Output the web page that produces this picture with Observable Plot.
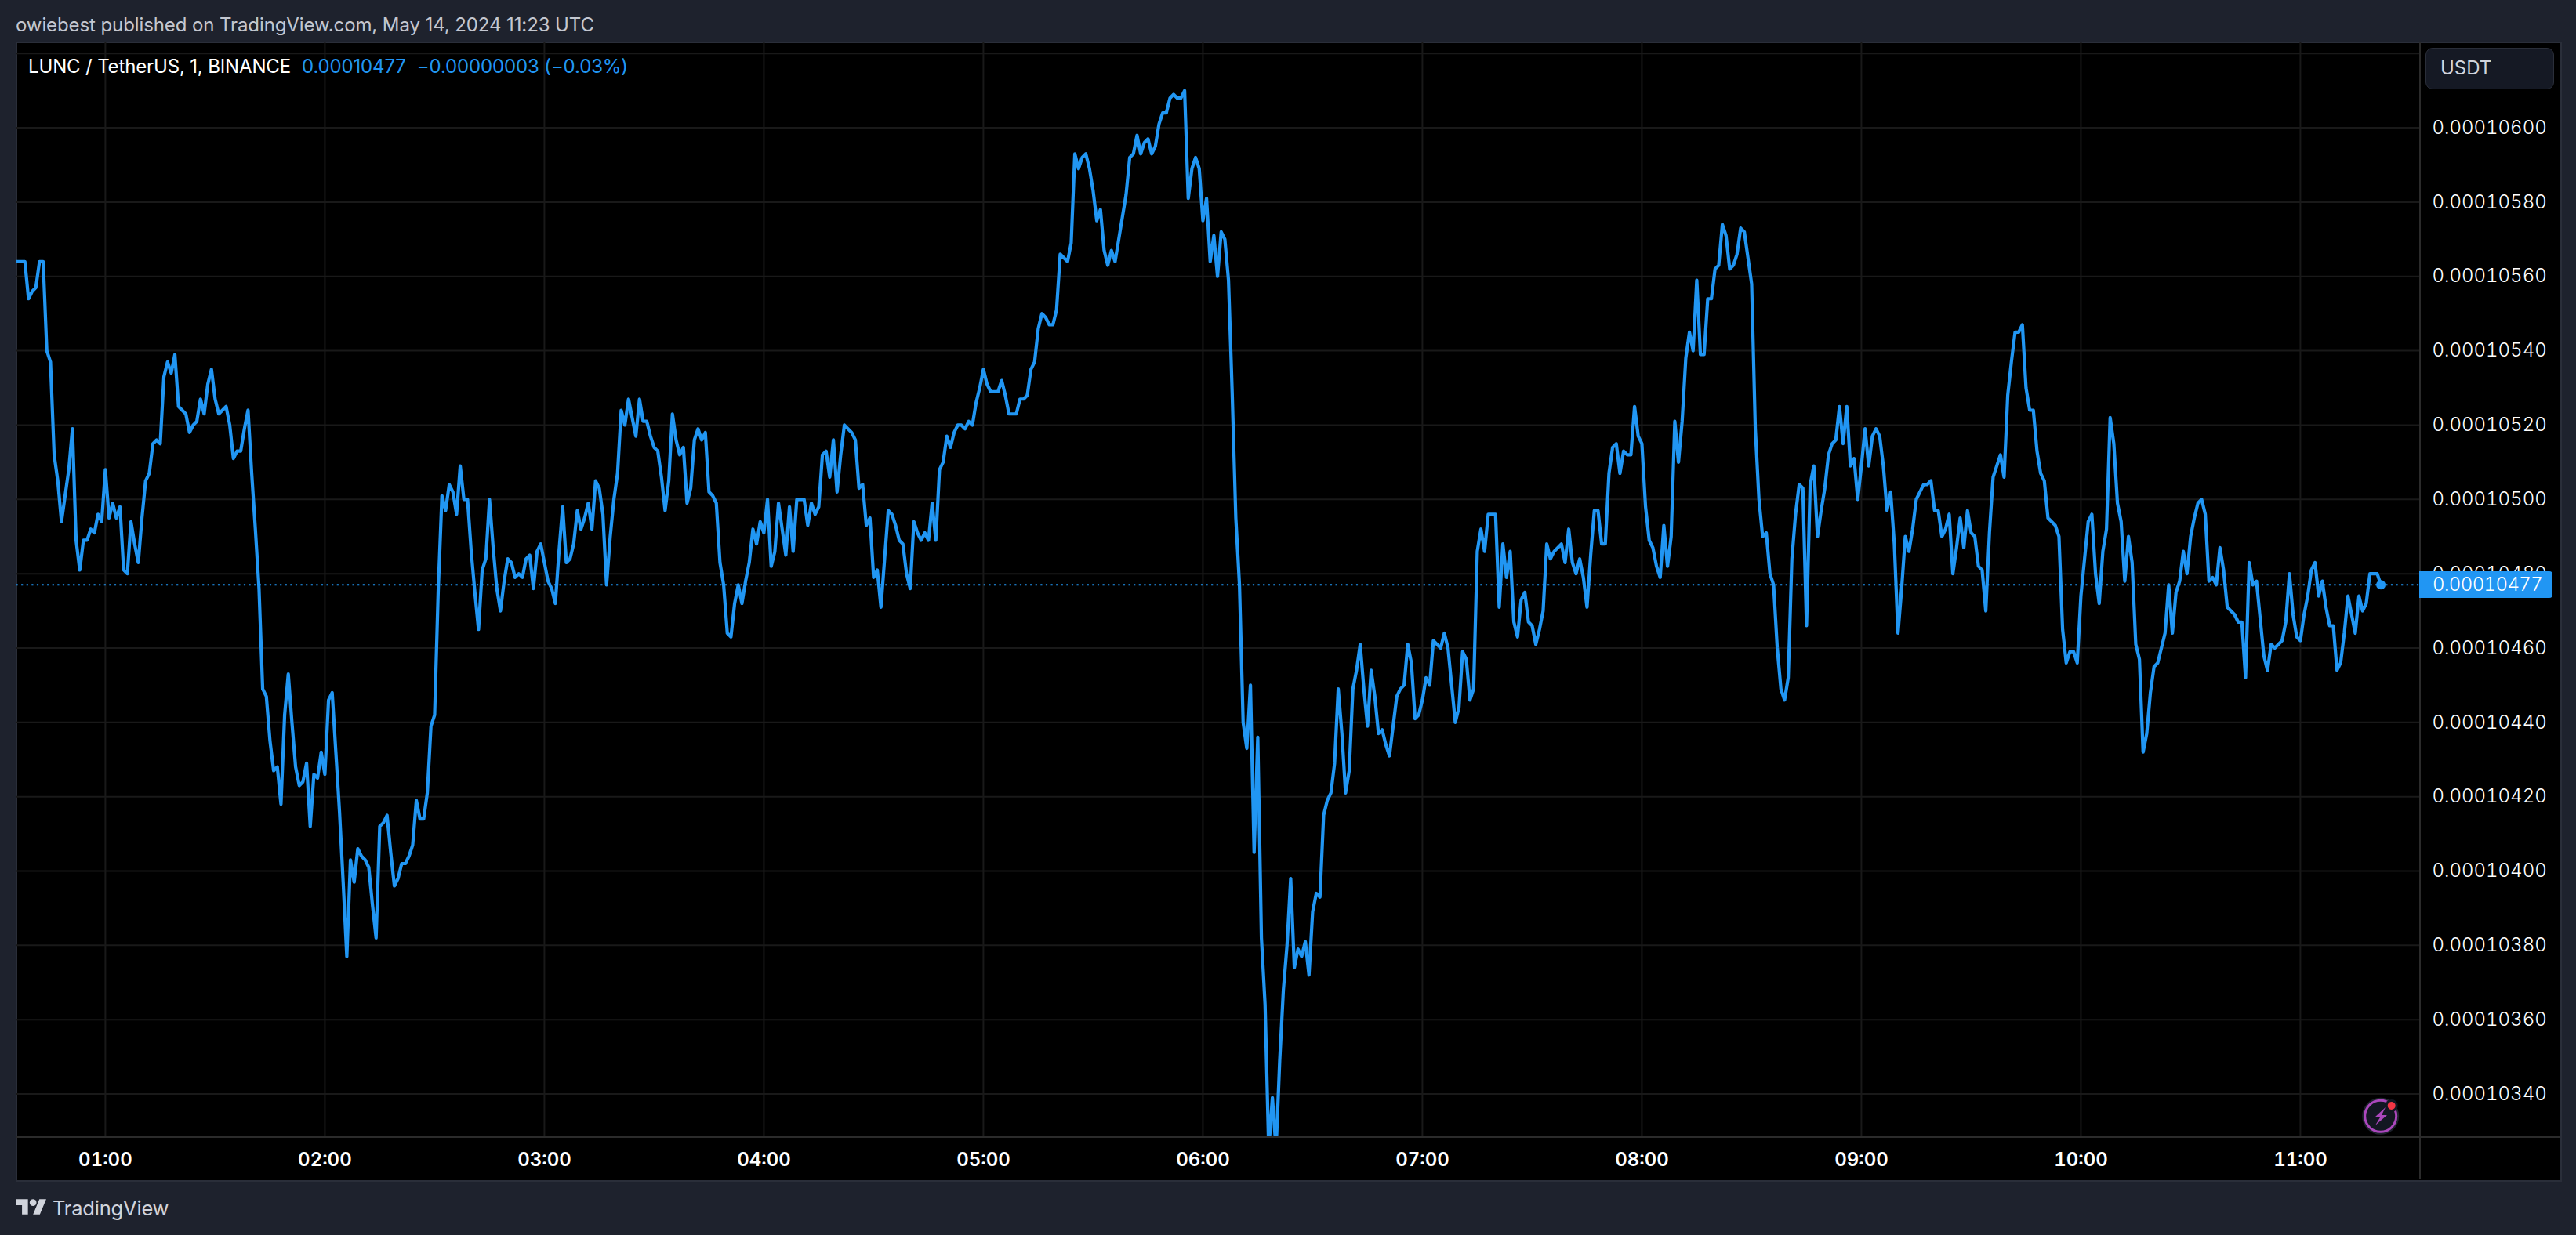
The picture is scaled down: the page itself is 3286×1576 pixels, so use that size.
<!DOCTYPE html>
<html>
<head>
<meta charset="utf-8">
<script src="https://cdn.jsdelivr.net/npm/d3@7"></script>
<script src="https://cdn.jsdelivr.net/npm/@observablehq/plot@0.6"></script>
<style>
  html,body{margin:0;padding:0;background:#1e222d;width:3286px;height:1576px;overflow:hidden;font-family:Inter,"Noto Sans",sans-serif;}
  #page{position:relative;width:3286px;height:1576px;}
  #panel{position:absolute;left:20px;top:53px;width:3244px;height:1451px;background:#000;border:2px solid #2a2e39;box-sizing:content-box;}
  #chart{position:absolute;left:0;top:0;}
  .abs{position:absolute;white-space:nowrap;}
  #vsep{position:absolute;left:3086px;top:54px;width:2px;height:1451px;background:#2b2b2b;}
  #hsep{position:absolute;left:21px;top:1450px;width:3244px;height:2px;background:#2b2b2b;}
</style>
</head>
<body>
<div id="page">
  <div id="panel"></div>
  <div id="chart"></div>
  <div id="vsep"></div>
  <div id="hsep"></div>
  <div class="abs" id="publisher" style="left:20px;top:17px;font-size:24px;line-height:30px;color:#c4c7d0;letter-spacing:-0.1px"></div>
  <div class="abs" id="legend" style="left:36px;top:70px;font-size:24px;line-height:30px;letter-spacing:-0.15px"></div>
  <div class="abs" id="unit" style="left:3094px;top:61px;width:164px;height:53px;box-sizing:border-box;background:#151924;border:1.5px solid #2a2e39;border-radius:9px;color:#d1d4dc;font-size:24px;line-height:50px;padding-left:18px"></div>
  <div class="abs" id="lastBox" style="left:3086px;width:170px;height:34px;background:#2196f3;border-radius:0 4px 4px 0;color:#fff;font-size:24px;font-weight:300;line-height:34px;padding-left:17px;box-sizing:border-box;font-variant-numeric:tabular-nums;letter-spacing:-0.6px"></div>
  <svg class="abs" id="bolt" style="left:3008px;top:1396px" width="60" height="60" viewBox="0 0 60 60">
    <circle cx="28.7" cy="28.3" r="22" fill="#131722" stroke="#1e222d" stroke-width="3"/>
    <circle cx="28.7" cy="28.3" r="20" fill="#131722" stroke="#ab47bc" stroke-width="3"/>
    <path d="M35 17 L21 30 L28 30 L22 40 L37 27 L30 27 Z" fill="#ab47bc"/>
    <circle cx="42.7" cy="15" r="8" fill="#131722"/>
    <circle cx="42.7" cy="15" r="5" fill="#f23645"/>
  </svg>
  <svg class="abs" style="left:20px;top:1526px" width="40" height="26" viewBox="0 0 36 24">
    <path d="M14 22H7V11H0V4h14v18zM28 22h-8l7.5-18h8L28 22z" fill="#d1d4dc"/>
    <circle cx="20" cy="8" r="4" fill="#d1d4dc"/>
  </svg>
  <div class="abs" id="brand" style="left:67px;top:1525px;font-size:25.5px;line-height:34px;color:#d1d4dc;letter-spacing:-0.2px"></div>
</div>
<script>
const publisherText = "owiebest published on TradingView.com, May 14, 2024 11:23 UTC";
const symbolText = "LUNC / TetherUS, 1, BINANCE";
const lastText = "0.00010477";
const changeText = "\u22120.00000003 (\u22120.03%)";
const unitText = "USDT";
const brandText = "TradingView";
const lastPrice = 10477;              // in 1e-8 USDT
const firstMinute = 35;               // minutes after 00:00 UTC of the first close below
const sessionDay = Date.UTC(2024, 4, 14);
const priceTicks = [10340,10360,10380,10400,10420,10440,10460,10480,10500,10520,10540,10560,10580,10600];
const gridPrices = [...priceTicks, 10620];
const hourTicks = [1,2,3,4,5,6,7,8,9,10,11];

// one-minute closes in 1e-8 USDT
const closes0035 = [10564,10564,10564,10564,10554,10556,10557,10564,10564,10540,10537,10512,10505,10494,10501,10508,10519,10489,10481,10489,10489,10492,10491,10496,10494];
const closes0100 = [10508,10495,10499,10495,10498,10481,10480,10494,10488,10483,10495,10505,10507,10515,10516,10515,10533,10537,10534,10539,10525,10524,10523,10518,10520,10521,10527,10523,10531,10535,10527,10523,10524,10525,10520,10511,10513,10513,10519,10524,10507,10492,10476,10449,10447,10435,10427,10428,10418,10442,10453,10440,10428,10423,10424,10429,10412,10426,10425,10432];
const closes0200 = [10426,10446,10448,10432,10416,10397,10377,10403,10397,10406,10404,10403,10401,10391,10382,10412,10413,10415,10405,10396,10398,10402,10402,10404,10407,10419,10414,10414,10421,10439,10442,10476,10501,10497,10504,10502,10496,10509,10500,10500,10486,10475,10465,10481,10484,10500,10487,10476,10470,10478,10484,10483,10479,10480,10479,10484,10485,10476,10486,10488];
const closes0300 = [10483,10478,10476,10472,10486,10498,10483,10484,10488,10497,10492,10495,10499,10492,10505,10503,10496,10477,10490,10500,10507,10524,10520,10527,10522,10517,10527,10521,10521,10517,10514,10513,10506,10497,10505,10523,10516,10512,10514,10499,10503,10516,10519,10516,10518,10502,10501,10499,10483,10477,10464,10463,10472,10477,10472,10478,10483,10492,10488,10494];
const closes0400 = [10491,10500,10482,10486,10499,10492,10485,10498,10486,10500,10500,10500,10493,10499,10496,10498,10512,10513,10506,10516,10502,10512,10520,10519,10518,10516,10503,10504,10493,10495,10479,10481,10471,10484,10497,10496,10493,10489,10488,10480,10476,10494,10491,10489,10491,10489,10499,10489,10508,10510,10517,10514,10518,10520,10520,10519,10521,10520,10526,10530];
const closes0500 = [10535,10531,10529,10529,10529,10532,10528,10523,10523,10523,10527,10527,10528,10535,10537,10546,10550,10549,10547,10547,10551,10566,10565,10564,10569,10593,10589,10592,10593,10589,10583,10575,10578,10567,10563,10567,10564,10570,10576,10582,10592,10593,10598,10593,10596,10597,10593,10595,10601,10604,10604,10608,10609,10608,10608,10610,10581,10589,10592,10589];
const closes0600 = [10575,10581,10564,10571,10560,10572,10570,10559,10529,10495,10477,10440,10433,10450,10405,10436,10382,10364,10325,10339,10325,10349,10368,10380,10398,10374,10379,10377,10381,10372,10389,10394,10393,10415,10419,10421,10429,10449,10437,10421,10427,10449,10454,10461,10449,10439,10454,10447,10437,10438,10434,10431,10439,10447,10449,10450,10461,10456,10441,10442];
const closes0700 = [10446,10452,10450,10462,10461,10460,10464,10460,10450,10440,10444,10459,10457,10446,10449,10486,10492,10486,10496,10496,10496,10471,10488,10479,10486,10467,10463,10473,10475,10467,10466,10461,10465,10470,10488,10484,10486,10487,10488,10483,10492,10483,10480,10484,10479,10471,10485,10497,10497,10488,10488,10507,10514,10515,10507,10513,10512,10512,10525,10517];
const closes0800 = [10515,10498,10489,10487,10482,10479,10493,10482,10490,10521,10510,10521,10538,10545,10540,10559,10539,10539,10554,10554,10562,10563,10574,10571,10562,10563,10566,10573,10572,10565,10558,10519,10500,10490,10491,10480,10477,10460,10449,10446,10452,10484,10496,10504,10503,10466,10504,10509,10490,10497,10503,10512,10515,10516,10525,10515,10525,10509,10511,10500];
const closes0900 = [10509,10519,10509,10517,10519,10517,10509,10497,10502,10488,10464,10476,10490,10486,10492,10500,10502,10504,10504,10505,10497,10497,10490,10492,10496,10480,10487,10495,10487,10497,10491,10490,10482,10481,10470,10491,10506,10509,10512,10506,10528,10537,10545,10545,10547,10530,10524,10524,10513,10507,10505,10495,10494,10493,10490,10465,10456,10459,10459,10456];
const closes1000 = [10474,10484,10494,10496,10480,10472,10486,10492,10522,10515,10499,10494,10478,10490,10483,10461,10457,10432,10437,10448,10455,10456,10460,10464,10477,10464,10475,10478,10486,10480,10490,10495,10499,10500,10496,10478,10479,10477,10487,10481,10471,10470,10469,10467,10467,10452,10483,10477,10478,10468,10458,10454,10461,10460,10461,10462,10467,10480,10469,10463];
const closes1100 = [10462,10469,10474,10481,10483,10474,10478,10471,10466,10466,10454,10456,10464,10474,10469,10464,10474,10470,10472,10480,10480,10480,10477];

const closes = [closes0035,closes0100,closes0200,closes0300,closes0400,closes0500,closes0600,closes0700,closes0800,closes0900,closes1000,closes1100].flat();
const atMinute = m => new Date(sessionDay + m * 60000);
const rows = closes.map((price, i) => ({time: atMinute(firstMinute + i), price}));
const lastRow = rows[rows.length - 1];
const priceLabel = d => (d * 1e-8).toFixed(8);

const BLUE = "#2196f3", GRID = "#191919";

const chart = Plot.plot({
  width: 3286,
  height: 1576,
  marginLeft: 20.5,
  marginRight: 199,
  marginTop: 54,
  marginBottom: 125,
  style: {background: "transparent", fontFamily: "Inter, 'Noto Sans', sans-serif", overflow: "visible"},
  x: {type: "utc", domain: [atMinute(35.7), atMinute(692.8)]},
  y: {type: "linear", domain: [10328.3, 10622.9]},
  marks: [
    Plot.gridX(hourTicks.map(h => atMinute(h * 60)), {stroke: GRID, strokeOpacity: 1, strokeWidth: 2}),
    Plot.gridY(gridPrices, {stroke: GRID, strokeOpacity: 1, strokeWidth: 2}),
    Plot.ruleY([lastPrice], {stroke: BLUE, strokeWidth: 2, strokeDasharray: "2.2,4.4"}),
    Plot.axisX({
      ticks: hourTicks.map(h => atMinute(h * 60)),
      tickFormat: d3.utcFormat("%H:%M"),
      tickSize: 0, tickPadding: 19, fontSize: 24, fontWeight: 600, fill: "#ffffff", label: null, letterSpacing: "1.5px"
    }),
    Plot.axisY({
      anchor: "right",
      ticks: priceTicks,
      tickFormat: priceLabel,
      tickSize: 0, tickPadding: 15, fontSize: 24, fontWeight: 300, fill: "#ffffff", label: null, letterSpacing: "-0.6px"
    }),
    Plot.line(rows, {x: "time", y: "price", stroke: BLUE, strokeWidth: 4.2, strokeLinejoin: "round", clip: true}),
    Plot.dot([lastRow], {x: "time", y: "price", r: 6, fill: BLUE, stroke: "none"})
  ]
});
document.getElementById("chart").appendChild(chart);

document.getElementById("publisher").textContent = publisherText;
const legend = document.getElementById("legend");
const seg = (t, c, ml) => { const s = document.createElement("span"); s.textContent = t; s.style.color = c; s.style.marginLeft = ml + "px"; legend.appendChild(s); };
seg(symbolText, "#ffffff", 0);
seg(lastText, BLUE, 14);
seg(changeText, BLUE, 14);
document.getElementById("unit").textContent = unitText;
document.getElementById("brand").textContent = brandText;
const lastBox = document.getElementById("lastBox");
lastBox.textContent = lastText;
lastBox.style.top = (chart.scale("y").apply(lastPrice) - 17) + "px";
</script>
</body>
</html>
